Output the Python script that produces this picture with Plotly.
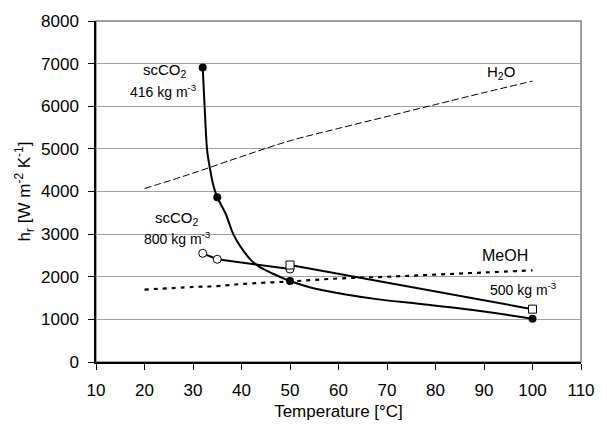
import plotly.graph_objects as go

# scCO2 416 kg m-3: measured points (filled circles)
co2_416_T = [32, 35, 50, 100]
co2_416_h = [6910, 3865, 1900, 1015]
# smoothed curve through them
co2_416_curve_T = [32.0, 32.4, 32.9, 33.4, 34.2, 35.0, 36.8, 38.3, 39.9, 42.0, 43.7, 46.4, 50.0,
                   54.6, 61.5, 68.3, 77.0, 88.8, 100.0]
co2_416_curve_h = [6910, 5980, 4980, 4600, 4140, 3865, 3460, 3000, 2690, 2385, 2230, 2077, 1900,
                   1737, 1584, 1469, 1360, 1205, 1015]

# scCO2 800 kg m-3 (open circles)
co2_800_T = [32, 35, 50]
co2_800_h = [2550, 2410, 2180]

# scCO2 500 kg m-3 (open squares)
co2_500_T = [50, 100]
co2_500_h = [2275, 1240]

# H2O (dashed)
h2o_T = [20, 30, 40, 50, 60, 70, 80, 90, 100]
h2o_h = [4070, 4430, 4820, 5190, 5480, 5760, 6040, 6320, 6590]

# MeOH (dotted)
meoh_T = [20, 30, 35, 40, 50, 60, 70, 80, 90, 100]
meoh_h = [1700, 1760, 1780, 1830, 1890, 1960, 2000, 2050, 2100, 2150]

x_ticks = list(range(10, 111, 10))
y_ticks = list(range(0, 8001, 1000))

FONT = "Liberation Sans"

fig = go.Figure()

fig.add_trace(go.Scatter(x=h2o_T, y=h2o_h, mode="lines",
                         line=dict(color="black", width=1, dash="7px,3px", shape="spline", smoothing=1.0),
                         showlegend=False))
fig.add_trace(go.Scatter(x=meoh_T, y=meoh_h, mode="lines",
                         line=dict(color="black", width=2.2, dash="4px,5px", shape="spline", smoothing=1.0),
                         showlegend=False))
fig.add_trace(go.Scatter(x=co2_416_curve_T, y=co2_416_curve_h, mode="lines",
                         line=dict(color="black", width=2, shape="spline", smoothing=0.8),
                         showlegend=False))
fig.add_trace(go.Scatter(x=co2_416_T, y=co2_416_h, mode="markers",
                         marker=dict(symbol="circle", size=8, color="black"),
                         showlegend=False))
fig.add_trace(go.Scatter(x=co2_800_T, y=co2_800_h, mode="lines+markers",
                         line=dict(color="black", width=2),
                         marker=dict(symbol="circle", size=8, color="white",
                                     line=dict(color="black", width=1)),
                         showlegend=False))
fig.add_trace(go.Scatter(x=co2_500_T, y=co2_500_h, mode="lines+markers",
                         line=dict(color="black", width=2),
                         marker=dict(symbol="square", size=8, color="white",
                                     line=dict(color="black", width=1)),
                         showlegend=False))

ann = [
    (24.2, 6843, "scCO<sub>2</sub>", 15),
    (24.0, 6360, "416 kg m<sup>-3</sup>", 14),
    (93.6, 6800, "H<sub>2</sub>O", 15),
    (26.8, 3364, "scCO<sub>2</sub>", 15),
    (26.8, 2903, "800 kg m<sup>-3</sup>", 14),
    (94.4, 2488, "MeOH", 16),
    (98.1, 1705, "500 kg m<sup>-3</sup>", 14),
]
for x, y, t, s in ann:
    fig.add_annotation(x=x, y=y, text=t, showarrow=False, xref="x", yref="y",
                       font=dict(size=s, color="black", family=FONT))

fig.update_xaxes(range=[10, 110], tickvals=x_ticks, showgrid=False,
                 showline=True, linecolor="black", linewidth=1.5,
                 ticks="outside", ticklen=6, tickcolor="black", ticklabelstandoff=6,
                 tickfont=dict(size=17, color="black", family=FONT),
                 title=dict(text="Temperature [°C]", font=dict(size=17, color="black", family=FONT), standoff=6),
                 zeroline=False)
fig.update_yaxes(range=[0, 8000], tickvals=y_ticks, showgrid=True, gridcolor="#a0a0a0", gridwidth=1,
                 showline=True, linecolor="black", linewidth=1.5,
                 ticks="outside", ticklen=6, tickcolor="black", ticklabelstandoff=6,
                 tickfont=dict(size=17, color="black", family=FONT),
                 title=dict(text="h<sub>r</sub> [W m<sup>-2</sup> K<sup>-1</sup>]",
                            font=dict(size=17, color="black", family=FONT), standoff=6),
                 zeroline=False)

fig.add_shape(type="rect", xref="paper", yref="paper", x0=0, y0=0, x1=1, y1=1,
              line=dict(color="#808080", width=1.5), layer="below")

fig.update_layout(width=607, height=430, margin=dict(l=96, r=24, t=16, b=67),
                  plot_bgcolor="white", paper_bgcolor="white",
                  font=dict(family=FONT, color="black"))

fig.write_html("out.html")
